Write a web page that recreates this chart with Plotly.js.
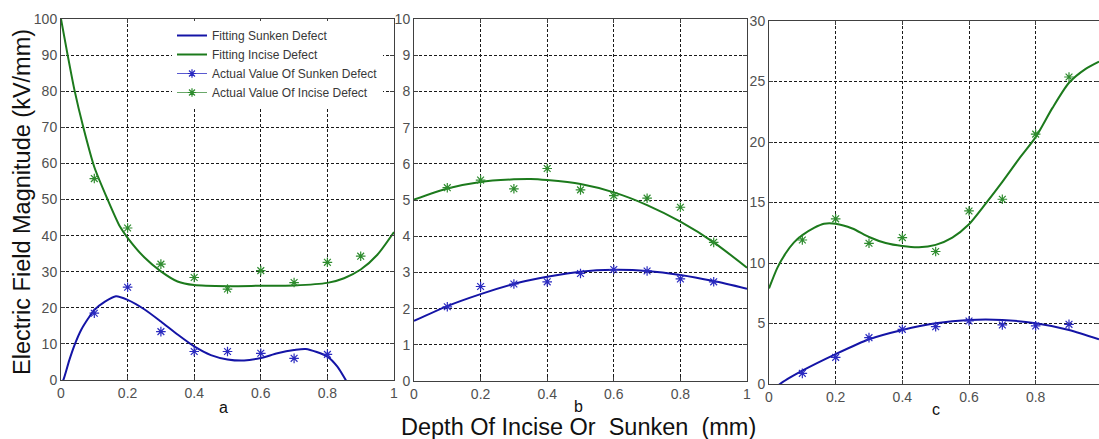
<!DOCTYPE html>
<html>
<head>
<meta charset="utf-8">
<script src="https://cdn.plot.ly/plotly-3.0.1.min.js"></script>
<style>html,body{margin:0;padding:0;background:#fff;}#chart{width:1099px;height:439px;}</style>
</head>
<body>
<div id="chart"></div>
<script>
// ---- Data ----
const actualX = [0.1, 0.2, 0.3, 0.4, 0.5, 0.6, 0.7, 0.8, 0.9];

// Panel a
const aSunkenActualX = [0.1, 0.2, 0.3, 0.4, 0.5, 0.6, 0.7, 0.8];
const aSunkenActual = [18.5, 25.7, 13.4, 7.9, 7.9, 7.4, 6.0, 7.1];
const aInciseActual = [55.8, 42.1, 32.1, 28.4, 25.2, 30.3, 27.0, 32.6, 34.3];
const aInciseFitX = [0, 0.02, 0.04, 0.067, 0.1, 0.14, 0.177, 0.2, 0.25, 0.3, 0.35, 0.4, 0.5, 0.6, 0.7, 0.8, 0.85, 0.9, 0.95, 1.0];
const aInciseFit  = [100, 90, 80.5, 70, 59, 50, 42.5, 39.4, 34, 30.1, 27.3, 26.3, 26, 26.1, 26.2, 26.9, 28.2, 30.6, 34.7, 41];
const aSunkenFitX = [0, 0.007, 0.025, 0.042, 0.06, 0.082, 0.1, 0.132, 0.165, 0.2, 0.25, 0.3, 0.35, 0.4, 0.45, 0.5, 0.55, 0.6, 0.65, 0.7, 0.735, 0.8, 0.83, 0.855, 0.87];
const aSunkenFit  = [-1, 0, 5.5, 10, 13.8, 17.1, 19.4, 21.7, 23.2, 22.2, 19.6, 16.2, 12.6, 9.3, 6.9, 5.7, 5.4, 6.1, 7.4, 8.3, 8.6, 6.5, 3.7, 0, -2.5];

// Panel b
const bSunkenActual = [2.05, 2.61, 2.68, 2.74, 2.97, 3.08, 3.04, 2.82, 2.74];
const bInciseActual = [5.34, 5.55, 5.31, 5.87, 5.28, 5.12, 5.05, 4.80, 3.83];
const bFitX = [0, 0.1, 0.2, 0.3, 0.35, 0.4, 0.5, 0.6, 0.7, 0.8, 0.9, 1.0];
const bInciseFit = [5.01, 5.32, 5.50, 5.57, 5.58, 5.55, 5.44, 5.21, 4.86, 4.40, 3.83, 3.13];
const bSunkenFit = [1.66, 2.07, 2.40, 2.68, 2.79, 2.88, 3.02, 3.07, 3.04, 2.93, 2.76, 2.55];

// Panel c
const cSunkenActual = [0.88, 2.2, 3.83, 4.52, 4.74, 5.21, 4.88, 4.8, 4.93];
const cInciseActual = [11.9, 13.65, 11.63, 12.1, 10.95, 14.3, 15.27, 20.65, 25.37];
const cInciseFitX = [0, 0.025, 0.05, 0.075, 0.1, 0.135, 0.165, 0.2, 0.25, 0.3, 0.35, 0.4, 0.45, 0.5, 0.55, 0.6, 0.65, 0.7, 0.75, 0.8, 0.85, 0.9, 0.95, 0.99];
const cInciseFit  = [7.9, 9.6, 10.8, 11.7, 12.3, 12.9, 13.24, 13.24, 12.85, 12.15, 11.65, 11.4, 11.3, 11.5, 12.1, 13.2, 14.9, 16.7, 18.6, 20.4, 22.8, 24.9, 26.05, 26.65];
const cSunkenFitX = [0, 0.033, 0.1, 0.2, 0.3, 0.4, 0.5, 0.6, 0.7, 0.8, 0.9, 0.99];
const cSunkenFit  = [-1.0, 0, 1.1, 2.47, 3.7, 4.47, 5.02, 5.29, 5.29, 5.02, 4.47, 3.69];

const xTickVals = [0, 0.2, 0.4, 0.6, 0.8, 1];
const xTickText = ['0', '0.2', '0.4', '0.6', '0.8', '1'];
const legendNames = ['Fitting Sunken Defect', 'Fitting Incise Defect', 'Actual Value Of Sunken Defect', 'Actual Value Of Incise Defect'];
const panelLabels = ['a', 'b', 'c'];

// ---- Styles ----
const BLUE_FIT = '#1414a6';
const GREEN_FIT = '#1c7a1c';
const BLUE_PT = '#2a2ac0';
const GREEN_PT = '#2e8c2e';

function fit(x, y, color, xa, ya, name, show) {
  return {x: x, y: y, type: 'scatter', mode: 'lines', line: {color: color, width: 2, shape: 'spline', smoothing: 0.7},
    xaxis: xa, yaxis: ya, name: name, showlegend: !!show, hoverinfo: 'x+y', cliponaxis: true};
}
function pts(x, y, color, xa, ya) {
  return {x: x, y: y, type: 'scatter', mode: 'markers',
    marker: {symbol: 'asterisk-open', size: 8, color: color, line: {color: color, width: 1.2}},
    xaxis: xa, yaxis: ya, showlegend: false, hoverinfo: 'x+y', cliponaxis: false};
}

const traces = [
  fit(aSunkenFitX, aSunkenFit, BLUE_FIT, 'x', 'y', legendNames[0], true),
  fit(aInciseFitX, aInciseFit, GREEN_FIT, 'x', 'y', legendNames[1], true),
  {x: [null], y: [null], type: 'scatter', mode: 'lines+markers', name: legendNames[2], xaxis: 'x', yaxis: 'y',
    line: {color: '#5a5ad0', width: 1}, marker: {symbol: 'asterisk-open', size: 7, color: BLUE_PT, line: {color: BLUE_PT, width: 1.2}}},
  {x: [null], y: [null], type: 'scatter', mode: 'lines+markers', name: legendNames[3], xaxis: 'x', yaxis: 'y',
    line: {color: '#6aa86a', width: 1}, marker: {symbol: 'asterisk-open', size: 7, color: GREEN_PT, line: {color: GREEN_PT, width: 1.2}}},
  pts(aSunkenActualX, aSunkenActual, BLUE_PT, 'x', 'y'),
  pts(actualX, aInciseActual, GREEN_PT, 'x', 'y'),

  fit(bFitX, bInciseFit, GREEN_FIT, 'x2', 'y2'),
  fit(bFitX, bSunkenFit, BLUE_FIT, 'x2', 'y2'),
  pts(actualX, bInciseActual, GREEN_PT, 'x2', 'y2'),
  pts(actualX, bSunkenActual, BLUE_PT, 'x2', 'y2'),

  fit(cInciseFitX, cInciseFit, GREEN_FIT, 'x3', 'y3'),
  fit(cSunkenFitX, cSunkenFit, BLUE_FIT, 'x3', 'y3'),
  pts(actualX, cInciseActual, GREEN_PT, 'x3', 'y3'),
  pts(actualX, cSunkenActual, BLUE_PT, 'x3', 'y3')
];

const tickFont = {family: 'Arial, "Liberation Sans", sans-serif', size: 14, color: '#505050'};
function xax(domain, range, anchor) {
  return {domain: domain, range: range, anchor: anchor, tickvals: xTickVals, ticktext: xTickText,
    showgrid: true, gridcolor: '#1a1a1a', griddash: '3px,2px', gridwidth: 1, zeroline: false,
    showline: true, linecolor: '#404040', linewidth: 1, mirror: 'ticks', ticks: 'inside', ticklen: 4, tickcolor: '#404040',
    tickfont: tickFont, fixedrange: true};
}
function yax(domain, range, dtick, anchor) {
  return {domain: domain, range: range, anchor: anchor, dtick: dtick, tick0: 0,
    showgrid: true, gridcolor: '#1a1a1a', griddash: '3px,2px', gridwidth: 1, zeroline: false,
    showline: true, linecolor: '#404040', linewidth: 1, mirror: 'ticks', ticks: 'inside', ticklen: 4, tickcolor: '#404040',
    tickfont: tickFont, fixedrange: true};
}

const W = 1099, H = 439;
function ann(text, px, py, size, extra) {
  return Object.assign({text: text, x: px / W, y: 1 - py / H, xref: 'paper', yref: 'paper', xanchor: 'center', yanchor: 'middle',
    showarrow: false, font: {family: 'Arial, "Liberation Sans", sans-serif', size: size, color: '#111'}}, extra || {});
}
const layout = {
  width: W, height: H,
  margin: {l: 0, r: 0, t: 0, b: 0, pad: 0},
  paper_bgcolor: '#ffffff', plot_bgcolor: '#ffffff',
  font: {family: 'Arial, "Liberation Sans", sans-serif', color: '#222'},
  xaxis:  xax([61 / W, 394 / W], [0, 1], 'y'),
  yaxis:  yax([1 - 380 / H, 1 - 19 / H], [0, 100], 10, 'x'),
  xaxis2: xax([414 / W, 747 / W], [0, 1], 'y2'),
  yaxis2: yax([1 - 381 / H, 1 - 19 / H], [0, 10], 1, 'x2'),
  xaxis3: xax([769 / W, 1], [0, 0.99], 'y3'),
  yaxis3: yax([1 - 384 / H, 1 - 21 / H], [0, 30], 5, 'x3'),
  showlegend: true,
  legend: {x: 172 / W, y: 1 - 21 / H, xanchor: 'left', yanchor: 'top', bgcolor: '#ffffff', borderwidth: 0,
    font: {family: 'Arial, "Liberation Sans", sans-serif', size: 12, color: '#383838'}, tracegroupgap: 0, itemwidth: 30},
  annotations: [
    ann(panelLabels[0], 223, 407, 16),
    ann(panelLabels[1], 578, 406, 16),
    ann(panelLabels[2], 936, 409, 16),
    ann('Depth Of Incise Or&nbsp;&nbsp;Sunken&nbsp;&nbsp;(mm)', 578, 427, 23.5),
    ann('Electric Field Magnitude (kV/mm)', 22, 202, 23.5, {textangle: -90})
  ]
};

Plotly.newPlot('chart', traces, layout, {displayModeBar: false, staticPlot: true});
</script>
</body>
</html>
